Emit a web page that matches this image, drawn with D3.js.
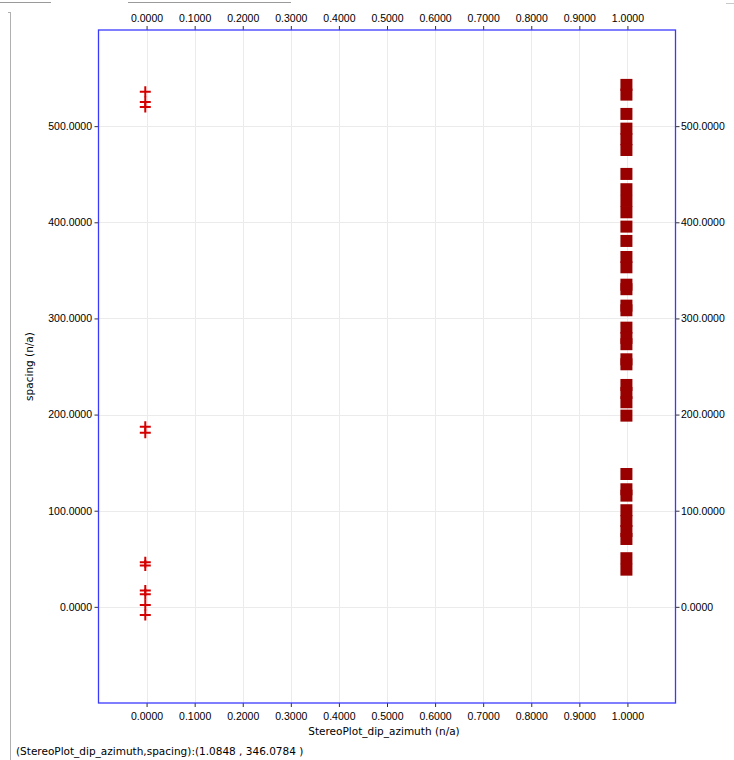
<!DOCTYPE html>
<html>
<head>
<meta charset="utf-8">
<script src="https://cdn.jsdelivr.net/npm/d3@7"></script>
<style>
  html, body { margin: 0; padding: 0; background: #fff; }
  svg { display: block; font-family: "DejaVu Sans", Verdana, sans-serif; }
  .axis text { font-size: 10.5px; fill: #000; }
  .axis path.domain { display: none; }
  .axis line { stroke: #333; }
</style>
</head>
<body>
<svg id="chart" width="734" height="760"></svg>
<script>
// Axis ticks
const xTicks = [0, 0.1, 0.2, 0.3, 0.4, 0.5, 0.6, 0.7, 0.8, 0.9, 1.0];
const yTicks = [0, 100, 200, 300, 400, 500];
const xDomain = [-0.1, 1.1];
const yDomain = [-100, 600];

// Series A: cross markers at dip azimuth 0
const azimuthA = [0, 0, 0, 0, 0, 0, 0, 0, 0, 0, 0];
const spacingA = [535.9, 525.2, 520.0, 187.4, 181.2, 46.4, 42.9, 16.9, 13.1, 2.0, -8.4];

// Series B: square markers at dip azimuth 1
const azimuthB = [1, 1, 1, 1, 1, 1, 1, 1, 1, 1, 1, 1, 1, 1, 1, 1, 1, 1,
                  1, 1, 1, 1, 1, 1, 1, 1, 1, 1, 1, 1, 1, 1, 1, 1, 1, 1];
const spacingB = [542.9, 532.8, 512.7, 497.4, 486.4, 475.2, 450.3, 434.4, 422.2,
                  410.4, 395.5, 380.6, 363.9, 353.2, 335.1, 330.4, 313.3, 308.5,
                  290.4, 279.7, 273.2, 257.5, 252.3, 230.8, 222.5, 212.8, 198.9,
                  138.2, 122.3, 115.7, 100.5, 89.3, 78.9, 70.6, 50.6, 38.7];

const xTitle = "StereoPlot_dip_azimuth (n/a)";
const yTitle = "spacing (n/a)";
const statusText = "(StereoPlot_dip_azimuth,spacing):(1.0848 , 346.0784 )";

const svg = d3.select("#chart");
const plot = { left: 98.5, right: 675.5, top: 30, bottom: 703 };

const x = d3.scaleLinear().domain(xDomain).range([plot.left, plot.right]);
const y = d3.scaleLinear().domain(yDomain).range([plot.bottom, plot.top]);
const fmt = d3.format(".4f");

// Window chrome lines
const chrome = svg.append("g").attr("stroke", "#9a9a9a").attr("stroke-width", 1);
chrome.append("line").attr("x1", 0).attr("x2", 51).attr("y1", 2.5).attr("y2", 2.5);
chrome.append("line").attr("x1", 128).attr("x2", 291).attr("y1", 2.5).attr("y2", 2.5);
chrome.append("line").attr("x1", 726).attr("x2", 734).attr("y1", 3.5).attr("y2", 3.5).attr("stroke", "#c8c8c8");
chrome.append("line").attr("x1", 10.5).attr("x2", 10.5).attr("y1", 12).attr("y2", 760).attr("stroke", "#b0b0b0");
chrome.append("line").attr("x1", 8).attr("x2", 10.5).attr("y1", 12.5).attr("y2", 12.5).attr("stroke", "#b0b0b0");

// Grid
const grid = svg.append("g").attr("stroke", "#ebebeb").attr("stroke-width", 1);
grid.selectAll("line.v").data(xTicks).join("line")
  .attr("class", "v")
  .attr("x1", d => Math.round(x(d)) + 0.5).attr("x2", d => Math.round(x(d)) + 0.5)
  .attr("y1", plot.top).attr("y2", plot.bottom);
grid.selectAll("line.h").data(yTicks).join("line")
  .attr("class", "h")
  .attr("y1", d => Math.round(y(d)) + 0.5).attr("y2", d => Math.round(y(d)) + 0.5)
  .attr("x1", plot.left).attr("x2", plot.right);

// Axes
svg.append("g").attr("class", "axis")
  .attr("transform", `translate(0,${plot.top})`)
  .call(d3.axisTop(x).tickValues(xTicks).tickFormat(fmt).tickSizeInner(4).tickSizeOuter(0).tickPadding(4.5));
svg.append("g").attr("class", "axis")
  .attr("transform", `translate(0,${plot.bottom})`)
  .call(d3.axisBottom(x).tickValues(xTicks).tickFormat(fmt).tickSizeInner(4).tickSizeOuter(0).tickPadding(5.5));
svg.append("g").attr("class", "axis")
  .attr("transform", `translate(${plot.left},0)`)
  .call(d3.axisLeft(y).tickValues(yTicks).tickFormat(fmt).tickSizeInner(4).tickSizeOuter(0).tickPadding(2.5));
svg.append("g").attr("class", "axis")
  .attr("transform", `translate(${plot.right},0)`)
  .call(d3.axisRight(y).tickValues(yTicks).tickFormat(fmt).tickSizeInner(4).tickSizeOuter(0).tickPadding(1.5));

// Plot frame
svg.append("rect")
  .attr("x", plot.left).attr("y", plot.top)
  .attr("width", plot.right - plot.left).attr("height", plot.bottom - plot.top)
  .attr("fill", "none").attr("stroke", "#3a3aff").attr("stroke-width", 1.3);

// Series B: squares
const sq = 12;
svg.append("g").selectAll("rect").data(spacingB.map((s, i) => ({ a: azimuthB[i], s })))
  .join("rect")
  .attr("x", d => x(d.a) - sq / 2 - 1)
  .attr("y", d => y(d.s) - sq / 2)
  .attr("width", sq).attr("height", sq)
  .attr("fill", "#990000");

// Series A: crosses
const arm = 5.5;
svg.append("g").attr("stroke", "#d40000").attr("stroke-width", 2).attr("fill", "none")
  .selectAll("path").data(spacingA.map((s, i) => ({ a: azimuthA[i], s })))
  .join("path")
  .attr("d", d => {
    const cx = x(d.a) - 1.3, cy = y(d.s);
    return `M${cx - arm},${cy}H${cx + arm}M${cx},${cy - arm}V${cy + arm}`;
  });

// Titles
svg.append("text")
  .attr("x", (plot.left + plot.right) / 2 - 3).attr("y", 735)
  .attr("text-anchor", "middle").attr("font-size", "10.5px")
  .text(xTitle);
svg.append("text")
  .attr("transform", `translate(33,${(plot.top + plot.bottom) / 2}) rotate(-90)`)
  .attr("text-anchor", "middle").attr("font-size", "10.5px")
  .text(yTitle);
svg.append("text")
  .attr("x", 16).attr("y", 755)
  .attr("font-size", "10.5px")
  .text(statusText);
</script>
</body>
</html>
